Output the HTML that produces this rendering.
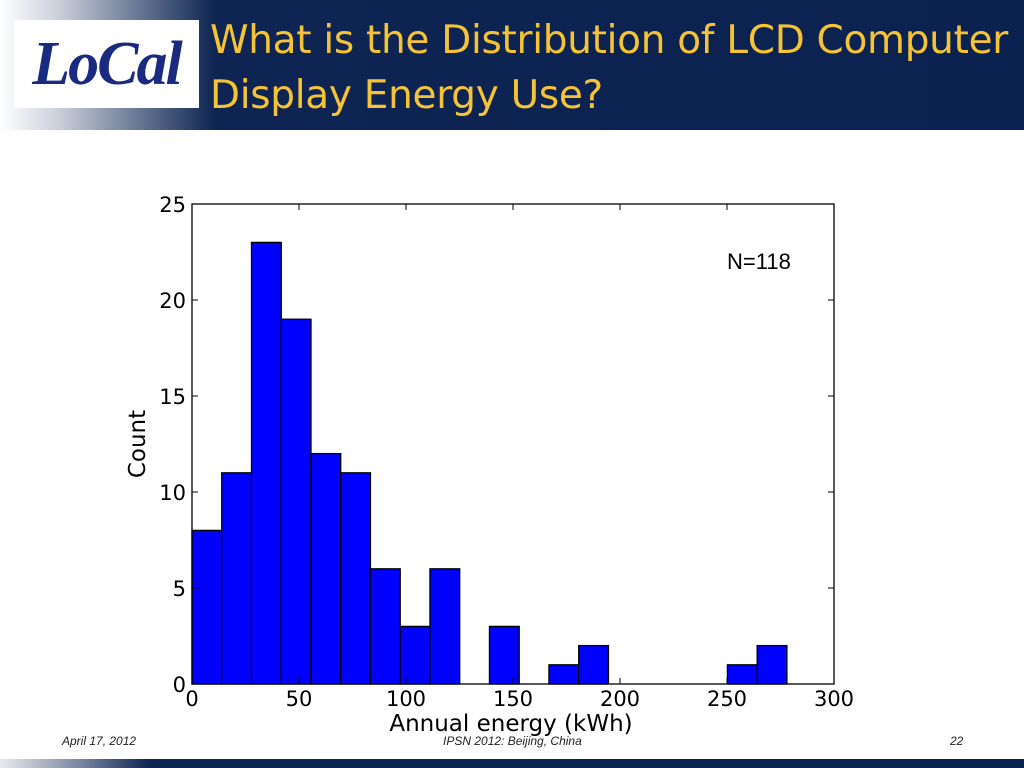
<!DOCTYPE html>
<html><head><meta charset="utf-8"><style>
body{margin:0;width:1024px;height:768px;background:#fff;position:relative;overflow:hidden;font-family:"Liberation Sans",sans-serif}
#hdr{position:absolute;left:0;top:0;width:1024px;height:130px;background:linear-gradient(to right,#fff 0px,#c9ced8 60px,#5a6a8a 150px,#0e2452 215px,#0b2150 1024px)}
#logo{position:absolute;left:14px;top:20px;width:185px;height:88px;background:#fff;color:#1a2a80;font-family:"Liberation Serif",serif;font-style:italic;font-weight:bold;font-size:62px;line-height:88px;text-align:center;letter-spacing:-2px}
#title{position:absolute;left:210px;top:13px;color:#f5c335;font-size:39px;line-height:55px;font-family:"DejaVu Sans","Liberation Sans",sans-serif;letter-spacing:-0.3px;white-space:nowrap}
#bot{position:absolute;left:0;top:759px;width:1024px;height:9px;background:linear-gradient(to right,#e8eaee 0px,#7a86a0 80px,#0e2452 150px,#0b2150 1024px)}
.ft{position:absolute;top:734px;font-size:12px;font-style:italic;color:#222}
</style></head><body>
<div id="hdr"></div>
<div id="logo">LoCal</div>
<div id="title">What is the Distribution of LCD Computer<br>Display Energy Use?</div>
<svg id="chart" width="1024" height="768" style="position:absolute;left:0;top:0"></svg>
<div class="ft" style="left:62px">April 17, 2012</div>
<div class="ft" style="left:443px">IPSN 2012: Beijing, China</div>
<div class="ft" style="left:950px">22</div>
<div id="bot"></div>
<script>
const counts=[8,11,23,19,12,11,6,3,6,0,3,0,1,2,0,0,0,0,1,2];
const binStart=0;
const binWidth=13.9;
const xTicks=[0,50,100,150,200,250,300];
const yTicks=[0,5,10,15,20,25];
const L=192,R=834,T=204,B=684;
const sx=v=>L+(v-0)/(300-0)*(R-L);
const sy=v=>B-(v-0)/(25-0)*(B-T);
const svg=document.getElementById('chart');
const NS='http://www.w3.org/2000/svg';
function mk(t,a){const e=document.createElementNS(NS,t);for(const k in a)e.setAttribute(k,a[k]);svg.appendChild(e);return e;}
counts.forEach((c,i)=>{if(c<=0)return;
const x0=sx(binStart+i*binWidth),x1=sx(binStart+(i+1)*binWidth);
const r=mk('rect',{x:x0,y:sy(c),width:x1-x0,height:sy(0)-sy(c),fill:'#0000ff',stroke:'#000','stroke-width':1.3});

});
const f=mk('rect',{x:L,y:T,width:R-L,height:B-T,fill:'none',stroke:'#000','stroke-width':1.3});


xTicks.forEach(v=>{const x=sx(v);
mk('line',{x1:x,x2:x,y1:B,y2:B-6,stroke:'#000'});mk('line',{x1:x,x2:x,y1:T,y2:T+6,stroke:'#000'});
const t=mk('text',{x:x,y:B+22,'text-anchor':'middle','font-size':21,'font-family':'DejaVu Sans,sans-serif'});t.textContent=v;

});
yTicks.forEach(v=>{const y=sy(v);
mk('line',{x1:L,x2:L+6,y1:y,y2:y,stroke:'#000'});mk('line',{x1:R,x2:R-6,y1:y,y2:y,stroke:'#000'});
const t=mk('text',{x:L-6,y:y+8,'text-anchor':'end','font-size':21,'font-family':'DejaVu Sans,sans-serif'});t.textContent=v;

});
const xt=mk('text',{x:(L+R)/2-2,y:731,'text-anchor':'middle','font-size':23,'font-family':'DejaVu Sans,sans-serif'});xt.textContent='Annual energy (kWh)';


const yt=mk('text',{x:0,y:0,'text-anchor':'middle','font-size':23,'font-family':'DejaVu Sans,sans-serif',transform:'translate(145,444) rotate(-90)'});yt.textContent='Count';


const n=mk('text',{x:727,y:269,'font-size':22,'font-family':'Liberation Sans,sans-serif'});n.textContent='N=118';


</script>
</body></html>
